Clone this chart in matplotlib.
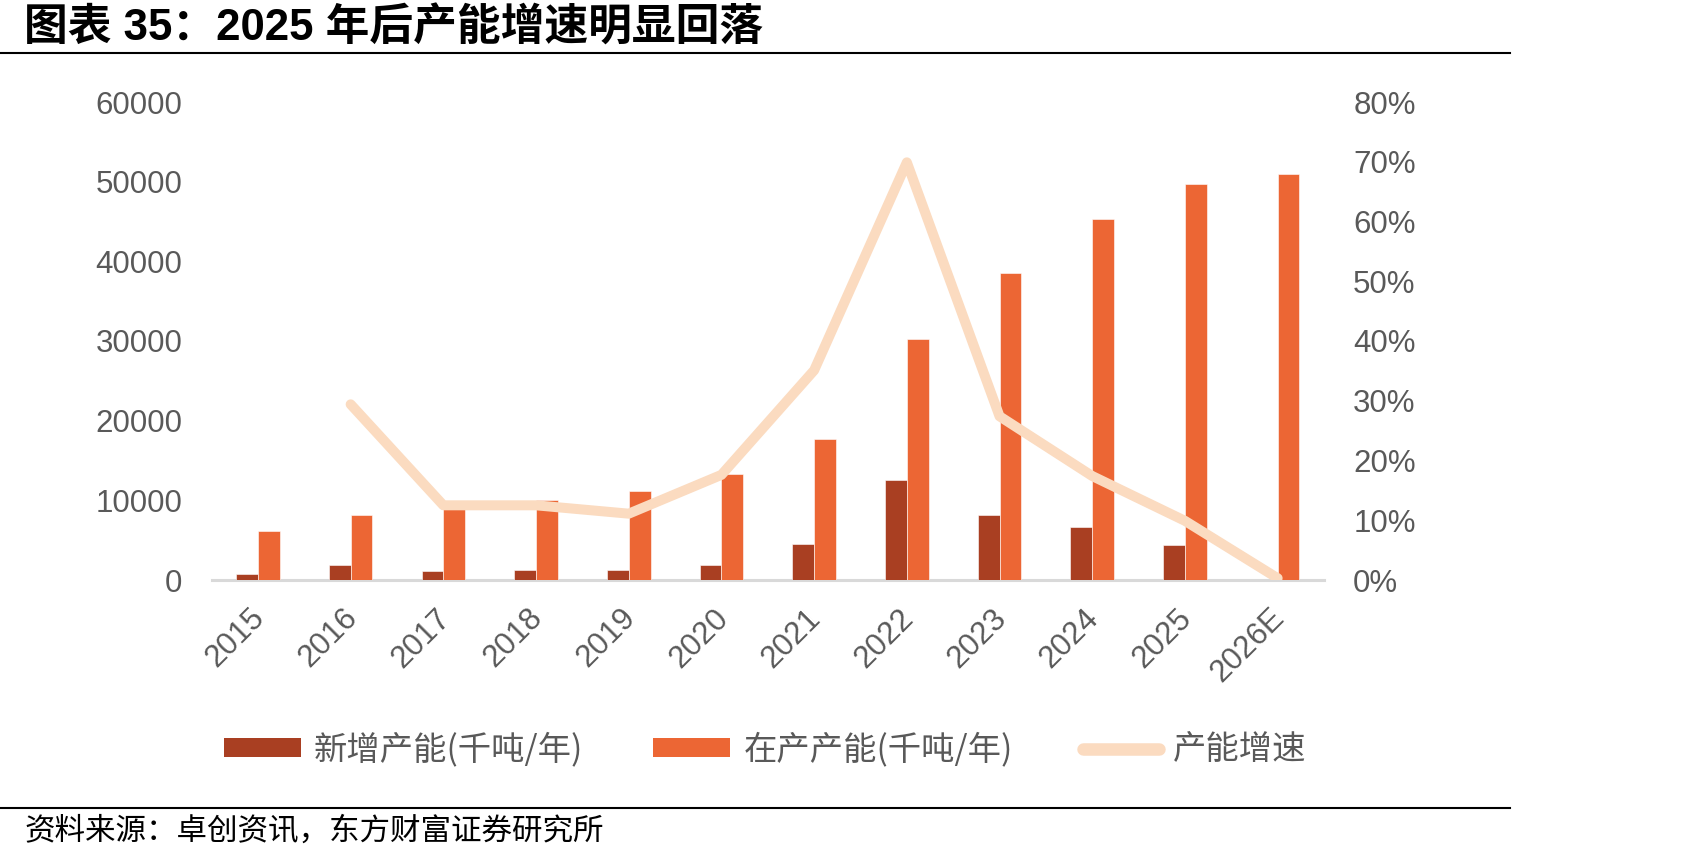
import numpy as np
import matplotlib
matplotlib.use("Agg")
import matplotlib.pyplot as plt
from matplotlib.lines import Line2D
from matplotlib.patches import Patch
import matplotlib.transforms as mtransforms

plt.rcParams['font.family'] = ['Liberation Sans', 'Noto Sans CJK SC', 'DejaVu Sans']

years = ["2015", "2016", "2017", "2018", "2019", "2020", "2021", "2022", "2023", "2024", "2025", "2026E"]
new_capacity = [800, 1900, 1100, 1200, 1200, 1900, 4500, 12500, 8200, 6600, 4400, 0]
total_capacity = [6200, 8200, 9200, 10100, 11200, 13300, 17700, 30200, 38500, 45300, 49700, 50900]
growth_rate = [np.nan, 0.294, 0.125, 0.125, 0.111, 0.176, 0.351, 0.699, 0.274, 0.174, 0.099, 0.003]

left_ticks = [0, 10000, 20000, 30000, 40000, 50000, 60000]
right_ticks = [0, 0.1, 0.2, 0.3, 0.4, 0.5, 0.6, 0.7, 0.8]

dark_red = "#A93F22"
orange = "#EC6634"
peach = "#FBDBC0"
grey_text = "#595959"


def plot_chart():
    W, H = 1701, 861
    figure = plt.figure(figsize=(W / 100, H / 100), dpi=100)

    ax = figure.add_axes([211.6 / W, 1 - 580 / H, (1324 - 211.6) / W, (580 - 102) / H])
    x = np.arange(len(years))
    bar_w = 0.235

    ax.bar(x - bar_w / 2, new_capacity, width=bar_w, color=dark_red, edgecolor="white", linewidth=0.4, zorder=2)
    ax.bar(x + bar_w / 2, total_capacity, width=bar_w, color=orange, edgecolor="white", linewidth=0.4, zorder=2)

    ax.set_xlim(-0.5, len(years) - 0.5)
    ax.set_ylim(0, 60000)
    ax.set_yticks(left_ticks)
    ax.set_yticklabels([str(v) for v in left_ticks], fontsize=22.5, color=grey_text)
    ax.tick_params(axis="y", length=0, pad=21)

    ax.set_xticks(x)
    ax.set_xticklabels(years, fontsize=22.5, color=grey_text, rotation=45, ha="right", rotation_mode="anchor")
    ax.tick_params(axis="x", length=0, pad=16.5)
    offset = mtransforms.ScaledTranslation(-6 / 72, 0, figure.dpi_scale_trans)
    for lbl in ax.get_xticklabels():
        lbl.set_transform(lbl.get_transform() + offset)

    for side in ["top", "right", "left"]:
        ax.spines[side].set_visible(False)
    ax.spines["bottom"].set_color("#D9D9D9")
    ax.spines["bottom"].set_linewidth(2.2)
    ax.spines["bottom"].set_zorder(1)

    ax2 = ax.twinx()
    ax2.plot(x, growth_rate, color=peach, lw=7.2, solid_capstyle="round", solid_joinstyle="round", zorder=3)
    ax2.set_ylim(0, 0.8)
    ax2.set_yticks(right_ticks)
    ax2.set_yticklabels([f"{int(round(v * 100))}%" for v in right_ticks], fontsize=22.5, color=grey_text)
    ax2.tick_params(axis="y", length=0, pad=21)
    for side in ["top", "right", "left", "bottom"]:
        ax2.spines[side].set_visible(False)

    handles = [
        Patch(facecolor=dark_red, edgecolor="none"),
        Patch(facecolor=orange, edgecolor="none"),
        Line2D([0], [0], color=peach, lw=9, solid_capstyle="round"),
    ]
    labels = ["新增产能(千吨/年)", "在产产能(千吨/年)", "产能增速"]
    figure.legend(handles, labels, loc="center", bbox_to_anchor=(765 / W, 1 - 750 / H), ncol=3,
                  frameon=False, prop={"family": ["Noto Sans CJK SC"], "size": 24},
                  labelcolor=grey_text, handlelength=2.3, handleheight=0.5, handletextpad=0.4,
                  columnspacing=2.1)

    figure.text(24 / W, 1 - 29 / H, "图表 35：2025 年后产能增速明显回落", fontsize=31.5, fontweight="bold",
                va="center", ha="left", color="black")
    figure.add_artist(Line2D([0, 1510 / W], [1 - 53 / H] * 2, color="black", lw=1.5))
    figure.add_artist(Line2D([0, 1510 / W], [1 - 808 / H] * 2, color="black", lw=1.5))
    figure.text(24 / W, 1 - 831 / H, "资料来源：卓创资讯，东方财富证券研究所", fontsize=22,
                va="center", ha="left", color="black", family=["Noto Sans CJK SC"])

    plt.savefig("out.png", dpi=100)


def main():
    plot_chart()


if __name__ == "__main__":
    main()
